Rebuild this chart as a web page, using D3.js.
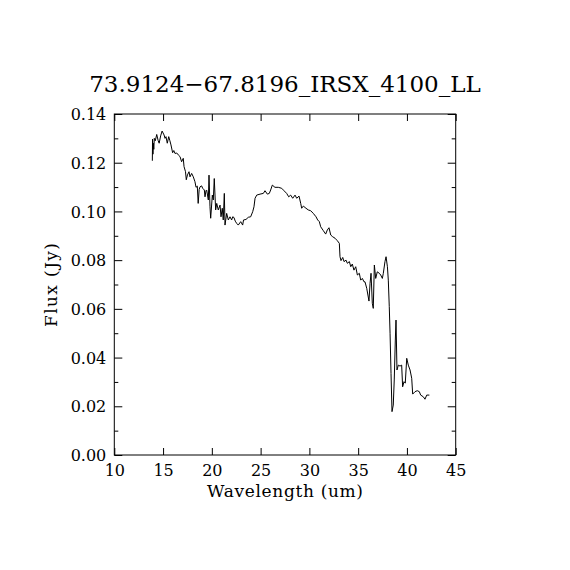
<!DOCTYPE html>
<html>
<head>
<meta charset="utf-8">
<script src="https://cdn.jsdelivr.net/npm/d3@7"></script>
<style>
  html, body { margin: 0; padding: 0; background: #fff; }
  svg text { font-family: "DejaVu Serif", "Liberation Serif", serif; fill: #000; }
</style>
</head>
<body>
<svg id="chart" width="570" height="570"></svg>
<script>
// spectrum (wavelength in um, flux in Jy)
var wavelength = [
  13.90, 13.92, 13.96, 14.00, 14.05, 14.10, 14.20, 14.35, 14.50, 14.60,
  14.75, 14.90, 15.10, 15.20, 15.30, 15.43, 15.58, 15.70, 15.81, 15.98,
  16.10, 16.22, 16.40, 16.56, 16.74, 16.90, 17.07, 17.15, 17.30, 17.38,
  17.50, 17.66, 17.76, 17.93, 18.10, 18.27, 18.38, 18.51, 18.60, 18.70,
  18.79, 18.95, 19.06, 19.23, 19.30, 19.40, 19.47, 19.64, 19.71, 19.81,
  19.88, 20.05, 20.15, 20.25, 20.39, 20.50, 20.66, 20.84, 20.94, 21.07,
  21.17, 21.28, 21.35, 21.52, 21.69, 21.86, 22.03, 22.14, 22.27, 22.40,
  22.55, 22.71, 22.96, 23.16, 23.25, 23.50, 23.74, 23.98, 24.19, 24.32,
  24.43, 24.60, 24.94, 25.28, 25.45, 25.69, 25.89, 26.03, 26.20, 26.47,
  26.81, 27.16, 27.40, 27.67, 27.88, 28.08, 28.29, 28.53, 28.70, 28.94,
  29.11, 29.21, 29.38, 29.65, 29.89, 30.13, 30.40, 30.68, 30.85, 31.02,
  31.16, 31.43, 31.67, 31.84, 32.01, 32.19, 32.39, 32.63, 32.86, 33.07,
  33.14, 33.24, 33.42, 33.55, 33.76, 33.89, 34.10, 34.24, 34.40, 34.57,
  34.75, 34.92, 35.12, 35.26, 35.43, 35.60, 35.70, 35.88, 36.11, 36.22,
  36.32, 36.45, 36.55, 36.66, 36.80, 36.96, 37.17, 37.31, 37.48, 37.58,
  37.75, 37.86, 38.00, 38.09, 38.19, 38.27, 38.37, 38.47, 38.60, 38.70,
  38.81, 38.88, 38.98, 39.12, 39.29, 39.46, 39.56, 39.70, 39.83, 39.98,
  40.14, 40.32, 40.49, 40.59, 40.83, 41.06, 41.27, 41.41, 41.68, 41.85,
  42.03, 42.30
];
var flux = [
  0.1208, 0.1297, 0.1235, 0.1280, 0.1255, 0.1300, 0.1290, 0.1316, 0.1290, 0.1280,
  0.1310, 0.1330, 0.1314, 0.1300, 0.1307, 0.1280, 0.1307, 0.1290, 0.1273, 0.1241,
  0.1250, 0.1238, 0.1240, 0.1232, 0.1225, 0.1204, 0.1218, 0.1184, 0.1163, 0.1130,
  0.1150, 0.1163, 0.1142, 0.1156, 0.1142, 0.1122, 0.1099, 0.1104, 0.1033, 0.1090,
  0.1101, 0.1105, 0.1095, 0.1088, 0.1060, 0.1085, 0.1088, 0.1047, 0.1149, 0.1019,
  0.0972, 0.1067, 0.1047, 0.1135, 0.1006, 0.1033, 0.1006, 0.1026, 0.0978, 0.1013,
  0.0965, 0.1074, 0.0944, 0.0992, 0.0965, 0.0978, 0.0965, 0.0978, 0.0975, 0.0960,
  0.0951, 0.0944, 0.0958, 0.0944, 0.0965, 0.0967, 0.0976, 0.0978, 0.0999, 0.1019,
  0.1054, 0.1067, 0.1071, 0.1074, 0.1085, 0.1071, 0.1074, 0.1088, 0.1108, 0.1099,
  0.1099, 0.1095, 0.1085, 0.1074, 0.1060, 0.1067, 0.1054, 0.1067, 0.1054, 0.1063,
  0.1033, 0.1013, 0.1022, 0.1013, 0.1006, 0.1003, 0.0992, 0.0978, 0.0965, 0.0958,
  0.0937, 0.0921, 0.0907, 0.0924, 0.0933, 0.0903, 0.0896, 0.0890, 0.0880, 0.0869,
  0.0814, 0.0798, 0.0811, 0.0794, 0.0800, 0.0787, 0.0794, 0.0773, 0.0784, 0.0759,
  0.0773, 0.0739, 0.0746, 0.0718, 0.0725, 0.0711, 0.0711, 0.0684, 0.0632, 0.0705,
  0.0746, 0.0623, 0.0602, 0.0780, 0.0725, 0.0752, 0.0746, 0.0739, 0.0725, 0.0746,
  0.0794, 0.0814, 0.0773, 0.0718, 0.0609, 0.0500, 0.0335, 0.0178, 0.0205, 0.0308,
  0.0472, 0.0554, 0.0349, 0.0369, 0.0365, 0.0369, 0.0280, 0.0301, 0.0295, 0.0397,
  0.0369, 0.0349, 0.0315, 0.0250, 0.0260, 0.0264, 0.0260, 0.0246, 0.0239, 0.0229,
  0.0246, 0.0246
];
var xTicks = [10, 15, 20, 25, 30, 35, 40, 45];
var yTicks = [0.00, 0.02, 0.04, 0.06, 0.08, 0.10, 0.12, 0.14];
var yMinorTicks = [0.01, 0.03, 0.05, 0.07, 0.09, 0.11, 0.13];
var chartTitle = '73.9124\u221267.8196_IRSX_4100_LL';
var xLabel = 'Wavelength (um)';
var yLabel = 'Flux (Jy)';

(function () {
  'use strict';
  var box = { left: 114.3, right: 455.7, top: 114, bottom: 455 };
  var svg = d3.select('#chart');

  var x = d3.scaleLinear().domain([10, 45]).range([box.left, box.right]);
  var y = d3.scaleLinear().domain([0, 0.14]).range([box.bottom, box.top]);

  // frame
  svg.append('rect')
    .attr('x', box.left).attr('y', box.top)
    .attr('width', box.right - box.left).attr('height', box.bottom - box.top)
    .attr('fill', 'none').attr('stroke', '#000').attr('stroke-width', 1);

  function axis(gen, tx, ty, size) {
    var g = svg.append('g').attr('transform', 'translate(' + tx + ',' + ty + ')').call(gen.tickSize(size));
    g.select('.domain').remove();
    g.selectAll('line').attr('stroke', '#000').attr('stroke-width', 1);
    return g;
  }

  // bottom axis with labels
  var bottom = axis(d3.axisBottom(x).tickValues(xTicks).tickFormat(d3.format('d')).tickPadding(4), 0, box.bottom, -7);
  bottom.selectAll('text').attr('font-size', 16).attr('dy', '1.05em');
  axis(d3.axisTop(x).tickValues(xTicks).tickFormat(''), 0, box.top, -7);

  // left axis with labels
  var left = axis(d3.axisLeft(y).tickValues(yTicks).tickFormat(d3.format('.2f')).tickPadding(8), box.left, 0, -8);
  left.selectAll('text').attr('font-size', 16).attr('dy', '0.35em');
  axis(d3.axisLeft(y).tickValues(yMinorTicks).tickFormat(''), box.left, 0, -4);
  axis(d3.axisRight(y).tickValues(yTicks).tickFormat(''), box.right, 0, -8);
  axis(d3.axisRight(y).tickValues(yMinorTicks).tickFormat(''), box.right, 0, -4);

  // spectrum
  var line = d3.line()
    .x(function (d) { return x(d[0]); })
    .y(function (d) { return y(d[1]); });
  svg.append('path')
    .datum(d3.zip(wavelength, flux))
    .attr('d', line)
    .attr('fill', 'none')
    .attr('stroke', '#000')
    .attr('stroke-width', 1);

  // texts
  svg.append('text')
    .attr('x', 285).attr('y', 92)
    .attr('text-anchor', 'middle').attr('font-size', 23)
    .text(chartTitle);
  svg.append('text')
    .attr('x', 285).attr('y', 497)
    .attr('text-anchor', 'middle').attr('font-size', 17)
    .attr('textLength', 156).attr('lengthAdjust', 'spacing')
    .text(xLabel);
  svg.append('text')
    .attr('transform', 'translate(57,285) rotate(-90)')
    .attr('text-anchor', 'middle').attr('font-size', 17)
    .attr('textLength', 84).attr('lengthAdjust', 'spacing')
    .text(yLabel);
})();
</script>
</body>
</html>
